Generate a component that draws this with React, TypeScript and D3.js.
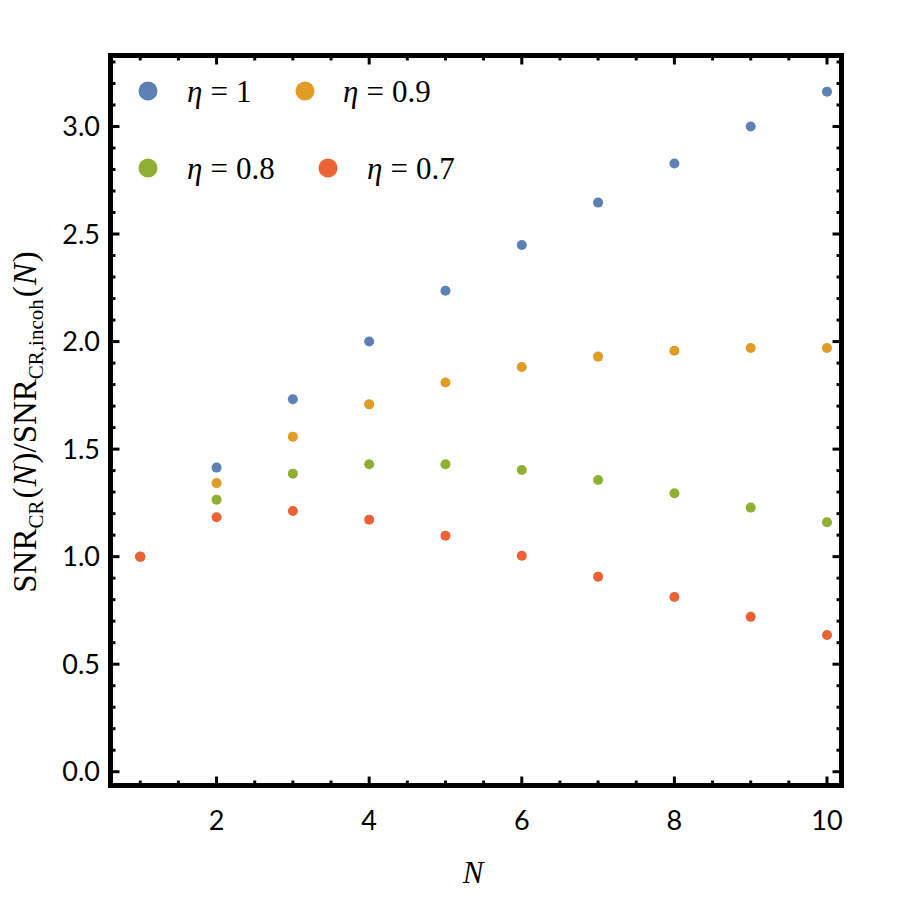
import React from "react";
import * as d3 from "d3";

const Ns = [1, 2, 3, 4, 5, 6, 7, 8, 9, 10];
const eta1 = [1.0, 1.414, 1.732, 2.0, 2.236, 2.449, 2.646, 2.828, 3.0, 3.162];
const eta09 = [1.0, 1.342, 1.558, 1.708, 1.81, 1.882, 1.93, 1.957, 1.97, 1.97];
const eta08 = [1.0, 1.265, 1.386, 1.43, 1.43, 1.403, 1.356, 1.295, 1.228, 1.16];
const eta07 = [1.0, 1.183, 1.212, 1.172, 1.097, 1.004, 0.907, 0.812, 0.72, 0.636];
const seriesLabels = ["1", "0.9", "0.8", "0.7"];
const colors = ["#5E81B5", "#E19C24", "#8FB032", "#EB6235"];
const xTicks = [2, 4, 6, 8, 10];
const yTicks = [0, 0.5, 1.0, 1.5, 2.0, 2.5, 3.0];

export default function App() {
  const W = 897, H = 897;
  const x = d3.scaleLinear().domain([0.61, 10.19]).range([110.5, 841.5]);
  const y = d3.scaleLinear().domain([-0.064, 3.33]).range([785.5, 55.5]);
  const series = [eta1, eta09, eta08, eta07];
  const xMinor = d3.range(1, 10.01, 0.5);
  const yMinor = d3.range(0, 3.31, 0.1);
  const [x0, x1] = x.range();
  const [y0, y1] = y.range();
  const tickFont = "Lato, 'Open Sans', sans-serif";
  const serif = "'Liberation Serif', 'DejaVu Serif', serif";
  const legendPos = [
    { mx: 148, my: 91, tx: 187 },
    { mx: 305, my: 91, tx: 343 },
    { mx: 148, my: 168, tx: 187 },
    { mx: 328, my: 168, tx: 367 },
  ];
  return (
    <svg width={W} height={H} style={{ position: "absolute", left: 0, top: 0 }}>
      <rect width={W} height={H} fill="#fff" />
      {xMinor.map((v, i) => {
        const major = Math.abs(v - Math.round(v / 2) * 2) < 1e-6;
        const L = major ? 9 : 5;
        return (
          <g key={"xt" + i}>
            <line x1={x(v)} x2={x(v)} y1={y0} y2={y0 - L} stroke="#000" strokeWidth={3} />
            <line x1={x(v)} x2={x(v)} y1={y1} y2={y1 + L} stroke="#000" strokeWidth={3} />
          </g>
        );
      })}
      {yMinor.map((v, i) => {
        const major = Math.abs(v * 2 - Math.round(v * 2)) < 1e-6;
        const L = major ? 9 : 5;
        return (
          <g key={"yt" + i}>
            <line x1={x0} x2={x0 + L} y1={y(v)} y2={y(v)} stroke="#000" strokeWidth={3} />
            <line x1={x1} x2={x1 - L} y1={y(v)} y2={y(v)} stroke="#000" strokeWidth={3} />
          </g>
        );
      })}
      <rect x={x0} y={y1} width={x1 - x0} height={y0 - y1} fill="none" stroke="#000" strokeWidth={5} />
      {xTicks.map((v) => (
        <text key={"xl" + v} x={x(v)} y={830} textAnchor="middle" fontFamily={tickFont} fontSize={27} fill="#000">
          {v}
        </text>
      ))}
      {yTicks.map((v) => (
        <text key={"yl" + v} x={100} y={y(v)} dy="0.36em" textAnchor="end" fontFamily={tickFont} fontSize={27} fill="#000">
          {v.toFixed(1)}
        </text>
      ))}
      {series.map((s, si) =>
        s.map((v, i) => (
          <circle key={si + "-" + i} cx={x(Ns[i])} cy={y(v)} r={5} fill={colors[si]} />
        ))
      )}
      {legendPos.map((p, i) => (
        <g key={"lg" + i}>
          <circle cx={p.mx} cy={p.my} r={9.5} fill={colors[i]} />
          <text x={p.tx} y={p.my} dy="0.35em" fontFamily={serif} fontSize={31} fill="#000">
            <tspan fontStyle="italic">η</tspan>
            <tspan dx={8}>=</tspan>
            <tspan dx={8}>{seriesLabels[i]}</tspan>
          </text>
        </g>
      ))}
      <text x={473} y={883} textAnchor="middle" fontFamily={serif} fontStyle="italic" fontSize={31} fill="#000">
        N
      </text>
      <text transform="translate(36,422) rotate(-90)" textAnchor="middle" fontFamily={serif} fontSize={33} fill="#000">
        <tspan>SNR</tspan>
        <tspan fontSize={21} dy={7}>CR</tspan>
        <tspan dy={-7} dx={2}>(</tspan>
        <tspan fontStyle="italic" dx={1}>N</tspan>
        <tspan dx={1}>)/SNR</tspan>
        <tspan fontSize={21} dy={7}>CR,incoh</tspan>
        <tspan dy={-7} dx={2}>(</tspan>
        <tspan fontStyle="italic" dx={1}>N</tspan>
        <tspan dx={1}>)</tspan>
      </text>
    </svg>
  );
}
